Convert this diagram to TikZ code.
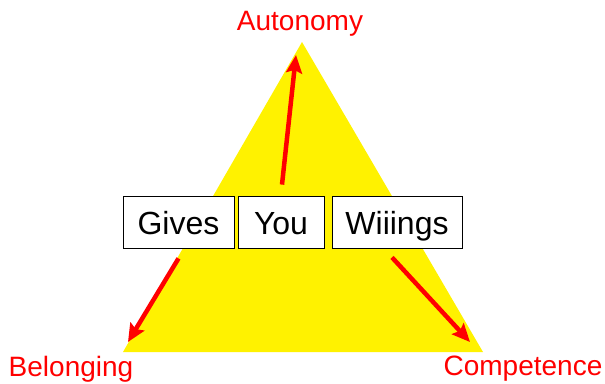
\documentclass[tikz,border=0pt]{standalone}
\usepackage{fontspec}
\setmainfont{Liberation Sans}
\usetikzlibrary{arrows.meta,positioning}

\begin{document}
\begin{tikzpicture}[
    x=1pt, y=-1pt,
    word/.style={rectangle, draw, thick, fill=white, inner sep=0pt, minimum height=52pt, text height=27pt, text depth=3pt, font=\fontsize{32}{38}\selectfont},
    corner/.style={text=red, inner sep=0pt, font=\fontsize{28}{34}\selectfont},
    arrow/.style={-{Stealth[length=18pt,width=16pt,inset=3pt]}, red, line width=4.5pt}
  ]
  \useasboundingbox (0,0) rectangle (605,383);

  % triangle
  \fill[yellow] (302,42) -- (483,352) -- (123,352) -- cycle;

  \node[corner] (aut) at (300,24) {Autonomy};
  \node[corner] (bel) at (71,369) {Belonging};
  \node[corner] (com) at (523,369) {Competence};

  \node[word, minimum width=111pt] (gives) at (178.5,222) {Gives};
  \node[word, minimum width=86pt] (you) at (281,222) {You};
  \node[word, minimum width=130pt] (wings) at (397,222) {Wiiings};

  \coordinate (ta) at (296,55);
  \coordinate (tb) at (128,342);
  \coordinate (tc) at (470,342);

  \draw[arrow] ([xshift=1pt,yshift=11pt]you.north) -- (ta);
  \draw[arrow] ([yshift=-10pt]gives.south) -- (tb);
  \draw[arrow] ([xshift=-5pt,yshift=-9pt]wings.south) -- (tc);

\end{tikzpicture}
\end{document}
